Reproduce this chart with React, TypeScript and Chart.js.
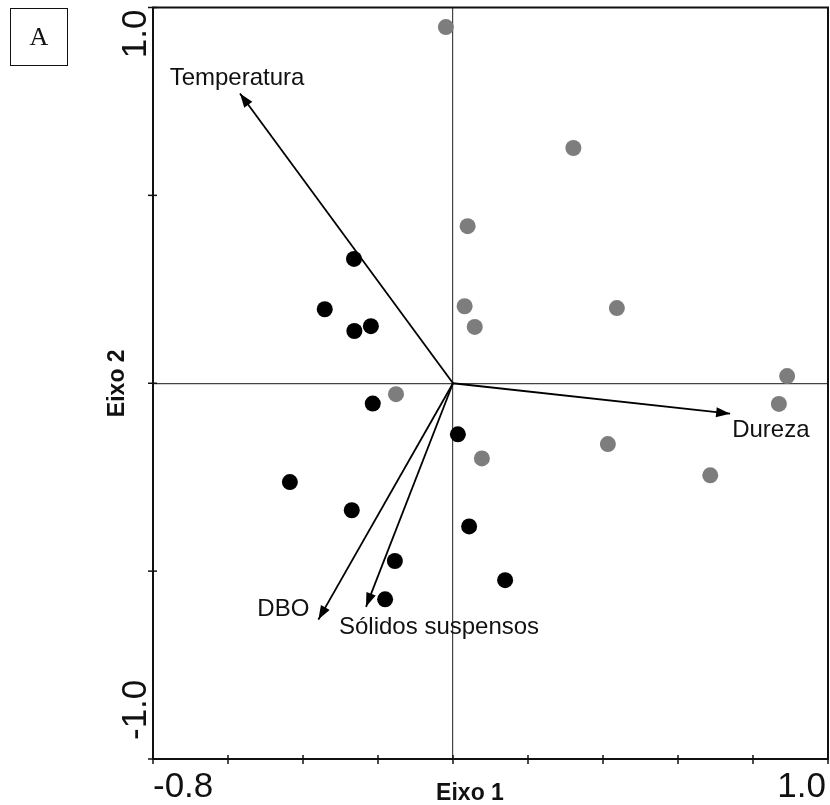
import React, { useEffect, useRef } from 'react';
import { Chart, registerables } from 'chart.js';

Chart.register(...registerables);

// ---- Axis ranges and ticks ----
const X_MIN = -0.8;
const X_MAX = 1.0;
const Y_MIN = -1.0;
const Y_MAX = 1.0;
const X_STEP = 0.2;
const Y_STEP = 0.5;
const xTickLabels = [
  { value: -0.8, text: '-0.8' },
  { value: 1.0, text: '1.0' },
];
const yTickLabels = [
  { value: 1.0, text: '1.0' },
  { value: -1.0, text: '-1.0' },
];
const xTitle = 'Eixo 1';
const yTitle = 'Eixo 2';
const panelLetter = 'A';

// ---- Sites (black group) ----
const blackX = [-0.264, -0.342, -0.263, -0.219, -0.214, 0.013, -0.435, -0.27, 0.043, -0.155, 0.139, -0.181];
const blackY = [0.331, 0.197, 0.139, 0.152, -0.054, -0.136, -0.263, -0.338, -0.381, -0.473, -0.524, -0.575];

// ---- Sites (gray group) ----
const grayX = [-0.019, 0.321, 0.039, 0.031, 0.437, 0.058, 0.891, 0.869, -0.152, 0.413, 0.077, 0.686];
const grayY = [0.948, 0.626, 0.418, 0.205, 0.2, 0.15, 0.019, -0.055, -0.029, -0.162, -0.2, -0.245];

// ---- Environmental vectors ----
const vectorNames = ['Temperatura', 'Dureza', 'DBO', 'Sólidos suspensos'];
const vectorX = [-0.568, 0.739, -0.359, -0.232];
const vectorY = [0.771, -0.081, -0.629, -0.595];

// label placement relative to arrow tip (px) and alignment
const vectorLabelDX = [-3, 2, -9, -27];
const vectorLabelDY = [-15, 17, -10, 21];
const vectorLabelAlign: CanvasTextAlign[] = ['center', 'left', 'right', 'left'];

const FONT = '"Liberation Sans", Arial, Helvetica, sans-serif';

// canvas placement (canvas is slightly larger than the page and shifted, so the
// plot area lands where the reference has it)
const CANVAS_W = 840;
const CANVAS_H = 815;
const CANVAS_TOP = -5;

const overlayPlugin = {
  id: 'overlay',
  afterDatasetsDraw(chart: any) {
    const ctx: CanvasRenderingContext2D = chart.ctx;
    const xs = chart.scales.x;
    const ys = chart.scales.y;
    const ox = xs.getPixelForValue(0);
    const oy = ys.getPixelForValue(0);
    ctx.save();
    for (let i = 0; i < vectorNames.length; i++) {
      const tx = xs.getPixelForValue(vectorX[i]);
      const ty = ys.getPixelForValue(vectorY[i]);
      const ang = Math.atan2(ty - oy, tx - ox);
      const len = 14;
      const hw = 5;
      const bx = tx - len * Math.cos(ang);
      const by = ty - len * Math.sin(ang);
      ctx.beginPath();
      ctx.moveTo(tx, ty);
      ctx.lineTo(bx + hw * Math.sin(ang), by - hw * Math.cos(ang));
      ctx.lineTo(bx - hw * Math.sin(ang), by + hw * Math.cos(ang));
      ctx.closePath();
      ctx.fillStyle = '#000';
      ctx.fill();
      ctx.font = `24px ${FONT}`;
      ctx.fillStyle = '#111';
      ctx.textAlign = vectorLabelAlign[i];
      ctx.textBaseline = 'middle';
      ctx.fillText(vectorNames[i], tx + vectorLabelDX[i], ty + vectorLabelDY[i]);
    }
    ctx.restore();
  },
  afterDraw(chart: any) {
    const ctx: CanvasRenderingContext2D = chart.ctx;
    const { left, right, top, bottom } = chart.chartArea;
    const xs = chart.scales.x;
    const ys = chart.scales.y;
    ctx.save();
    // frame
    ctx.strokeStyle = '#111';
    ctx.lineWidth = 2;
    ctx.strokeRect(left, top, right - left, bottom - top);
    // tick marks
    ctx.lineWidth = 1.5;
    xs.ticks.forEach((t: any) => {
      const px = xs.getPixelForValue(t.value);
      ctx.beginPath();
      ctx.moveTo(px, bottom - 4);
      ctx.lineTo(px, bottom + 5);
      ctx.stroke();
    });
    ys.ticks.forEach((t: any) => {
      const py = ys.getPixelForValue(t.value);
      ctx.beginPath();
      ctx.moveTo(left - 5, py);
      ctx.lineTo(left + 4, py);
      ctx.stroke();
    });
    // x tick labels
    ctx.fillStyle = '#111';
    ctx.font = `35px ${FONT}`;
    ctx.textBaseline = 'alphabetic';
    xTickLabels.forEach((l, i) => {
      const px = xs.getPixelForValue(l.value);
      ctx.textAlign = i === 0 ? 'left' : 'right';
      ctx.fillText(l.text, i === 0 ? px : px - 2, bottom + 38);
    });
    // y tick labels (rotated)
    yTickLabels.forEach((l, i) => {
      const py = ys.getPixelForValue(l.value);
      ctx.save();
      ctx.translate(left - 7, i === 0 ? py + 2 : py - 19);
      ctx.rotate(-Math.PI / 2);
      ctx.textAlign = i === 0 ? 'right' : 'left';
      ctx.fillText(l.text, 0, 0);
      ctx.restore();
    });
    // axis titles
    ctx.font = `bold 23px ${FONT}`;
    ctx.textAlign = 'center';
    ctx.fillText(xTitle, 470, bottom + 41);
    ctx.save();
    ctx.translate(left - 29, (top + bottom) / 2);
    ctx.rotate(-Math.PI / 2);
    ctx.fillText(yTitle, 0, 0);
    ctx.restore();
    ctx.restore();
  },
};

export default function App() {
  const canvasRef = useRef<HTMLCanvasElement>(null);

  useEffect(() => {
    if (!canvasRef.current) return;
    const zeroColor = (c: any) =>
      c.tick && Math.abs(c.tick.value) < 1e-9 ? '#444' : 'rgba(0,0,0,0)';
    const arrowSets = vectorNames.map((name, i) => ({
      label: name,
      data: [
        { x: 0, y: 0 },
        { x: vectorX[i], y: vectorY[i] },
      ],
      showLine: true,
      borderColor: '#000',
      borderWidth: 1.8,
      pointRadius: 0,
      pointHoverRadius: 0,
      fill: false,
    }));
    const chart = new Chart(canvasRef.current, {
      type: 'scatter',
      data: {
        datasets: [
          {
            label: 'black',
            data: blackX.map((x, i) => ({ x, y: blackY[i] })),
            backgroundColor: '#000',
            borderColor: '#000',
            borderWidth: 0,
            pointRadius: 8,
          },
          {
            label: 'gray',
            data: grayX.map((x, i) => ({ x, y: grayY[i] })),
            backgroundColor: '#7d7d7d',
            borderColor: '#7d7d7d',
            borderWidth: 0,
            pointRadius: 8,
          },
          ...arrowSets,
        ] as any,
      },
      options: {
        animation: false,
        responsive: false,
        devicePixelRatio: 1,
        layout: {
          padding: { left: 153, top: 7.5 - CANVAS_TOP, right: CANVAS_W - 828, bottom: CANVAS_H + CANVAS_TOP - 759 },
        },
        plugins: { legend: { display: false }, tooltip: { enabled: false } },
        events: [],
        scales: {
          x: {
            type: 'linear',
            min: X_MIN,
            max: X_MAX,
            ticks: { display: false, stepSize: X_STEP },
            grid: { color: zeroColor, lineWidth: 1.2, drawTicks: false },
            border: { display: false },
          },
          y: {
            type: 'linear',
            min: Y_MIN,
            max: Y_MAX,
            ticks: { display: false, stepSize: Y_STEP },
            grid: { color: zeroColor, lineWidth: 1.2, drawTicks: false },
            border: { display: false },
          },
        },
      },
      plugins: [overlayPlugin],
    });
    return () => chart.destroy();
  }, []);

  return (
    <div
      style={{
        position: 'absolute',
        left: 0,
        top: 0,
        width: 830,
        height: 805,
        overflow: 'hidden',
        background: '#fff',
      }}
    >
      <canvas
        ref={canvasRef}
        width={CANVAS_W}
        height={CANVAS_H}
        style={{ display: 'block', position: 'absolute', left: 0, top: CANVAS_TOP }}
      />
      <div
        style={{
          position: 'absolute',
          left: 10,
          top: 8,
          width: 58,
          height: 58,
          boxSizing: 'border-box',
          border: '1.5px solid #111',
          display: 'flex',
          alignItems: 'center',
          justifyContent: 'center',
          fontFamily: '"Liberation Serif", "Times New Roman", serif',
          fontSize: 26,
          color: '#111',
        }}
      >
        {panelLetter}
      </div>
    </div>
  );
}
